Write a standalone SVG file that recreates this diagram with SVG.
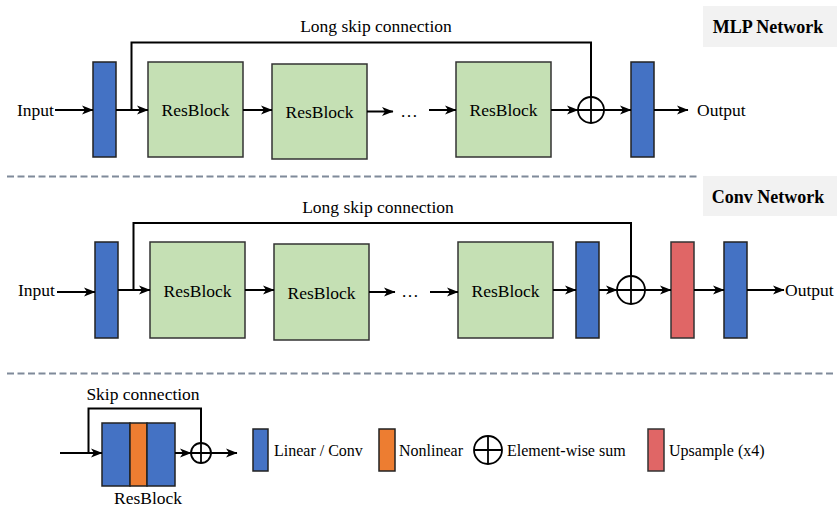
<svg xmlns="http://www.w3.org/2000/svg" width="837" height="508" viewBox="0 0 837 508">
<defs>
<marker id="ah" markerUnits="userSpaceOnUse" markerWidth="12" markerHeight="10" viewBox="0 0 12 10" refX="11" refY="5" orient="auto">
<path d="M0,0.5 L11.5,5 L0,9.5 L3,5 Z" fill="#000"/>
</marker>
<style>
.t{font-family:"Liberation Serif","Times New Roman",serif;font-size:17.5px;fill:#000}
.s{font-family:"Liberation Serif","Times New Roman",serif;font-size:16px;fill:#000}
.h{font-family:"Liberation Serif","Times New Roman",serif;font-size:18px;font-weight:bold;fill:#000}
.lin{fill:#4472c4;stroke:#222;stroke-width:1.5}
.rb{fill:#c5e0b4;stroke:#333;stroke-width:1.5}
.nl{fill:#ed7d31;stroke:#222;stroke-width:1.5}
.up{fill:#e06666;stroke:#333;stroke-width:1.5}
.sum{fill:none;stroke:#000;stroke-width:1.8}
.c{fill:none;stroke:#000;stroke-width:2}
.a{fill:none;stroke:#000;stroke-width:2;marker-end:url(#ah)}
.dash{stroke:#7f8a9a;stroke-width:2;stroke-dasharray:7,3.5}
.lbl{fill:#f2f2f2}
</style>
</defs>

<!-- section separators and titles -->
<line class="dash" x1="7" y1="176.5" x2="700" y2="176.5"/>
<line class="dash" x1="7" y1="373.5" x2="836" y2="373.5"/>
<g id="mlp-title"><rect class="lbl" x="703" y="6" width="134" height="41"/><text class="h" x="768" y="33" text-anchor="middle">MLP Network</text></g>
<g id="conv-title"><rect class="lbl" x="703" y="176" width="134" height="40"/><text class="h" x="768" y="203" text-anchor="middle">Conv Network</text></g>

<!-- MLP network nodes -->
<g id="mlp-input"><text class="t" x="17" y="116">Input</text></g>
<g id="mlp-lin1"><rect class="lin" x="93" y="62" width="23" height="95"/></g>
<g id="mlp-rb1"><rect class="rb" x="148" y="62" width="95" height="95"/><text class="t" x="195.5" y="116" text-anchor="middle">ResBlock</text></g>
<g id="mlp-rb2"><rect class="rb" x="272" y="64" width="95" height="95"/><text class="t" x="319.5" y="118" text-anchor="middle">ResBlock</text></g>
<g id="mlp-dots"><text class="t" x="409" y="117" text-anchor="middle">…</text></g>
<g id="mlp-rb3"><rect class="rb" x="456" y="62" width="95" height="95"/><text class="t" x="503.5" y="116" text-anchor="middle">ResBlock</text></g>
<g id="mlp-sum"><circle class="sum" cx="591" cy="110" r="13"/><path class="sum" d="M578,110 H604 M591,97 V123"/></g>
<g id="mlp-lin2"><rect class="lin" x="631" y="62" width="23" height="95"/></g>
<g id="mlp-output"><text class="t" x="697" y="116">Output</text></g>
<g id="mlp-skip-label"><text class="t" x="376" y="32" text-anchor="middle">Long skip connection</text></g>

<!-- Conv network nodes -->
<g id="conv-input"><text class="t" x="18" y="296">Input</text></g>
<g id="conv-lin1"><rect class="lin" x="95" y="242" width="23" height="96"/></g>
<g id="conv-rb1"><rect class="rb" x="150" y="242" width="95" height="96"/><text class="t" x="197.5" y="297" text-anchor="middle">ResBlock</text></g>
<g id="conv-rb2"><rect class="rb" x="274" y="244" width="95" height="96"/><text class="t" x="321.5" y="299" text-anchor="middle">ResBlock</text></g>
<g id="conv-dots"><text class="t" x="410" y="297" text-anchor="middle">…</text></g>
<g id="conv-rb3"><rect class="rb" x="458" y="242" width="95" height="96"/><text class="t" x="505.5" y="297" text-anchor="middle">ResBlock</text></g>
<g id="conv-lin2"><rect class="lin" x="576" y="242" width="23" height="96"/></g>
<g id="conv-sum"><circle class="sum" cx="631" cy="290" r="14"/><path class="sum" d="M617,290 H645 M631,276 V304"/></g>
<g id="conv-up"><rect class="up" x="671" y="242" width="23" height="96"/></g>
<g id="conv-lin3"><rect class="lin" x="724" y="242" width="23" height="96"/></g>
<g id="conv-output"><text class="t" x="785" y="296">Output</text></g>
<g id="conv-skip-label"><text class="t" x="378" y="213" text-anchor="middle">Long skip connection</text></g>

<!-- Legend -->
<g id="legend-skip-label"><text class="t" x="143" y="400" text-anchor="middle">Skip connection</text></g>
<g id="legend-resblock">
<rect class="lin" x="102" y="423" width="28" height="63"/>
<rect class="nl" x="130" y="423" width="17" height="63"/>
<rect class="lin" x="147" y="423" width="28" height="63"/>
<text class="t" x="148" y="503.5" text-anchor="middle">ResBlock</text>
</g>
<g id="legend-resblock-sum"><circle class="sum" cx="201" cy="453" r="10"/><path class="sum" d="M191,453 H211 M201,443 V463"/></g>
<g id="legend-linear"><rect class="lin" x="253" y="429" width="15" height="42"/><text class="s" x="274" y="456">Linear / Conv</text></g>
<g id="legend-nonlinear"><rect class="nl" x="379" y="429" width="16" height="42"/><text class="s" x="399" y="456">Nonlinear</text></g>
<g id="legend-sum"><circle class="sum" cx="488" cy="450" r="14"/><path class="sum" d="M474,450 H502 M488,436 V464"/><text class="s" x="507" y="456">Element-wise sum</text></g>
<g id="legend-upsample"><rect class="up" x="648" y="429" width="16" height="42"/><text class="s" x="669" y="456">Upsample (x4)</text></g>

<!-- connectors -->
<g id="connectors">
<line class="a" x1="55" y1="110" x2="93" y2="110"/>
<line class="a" x1="116" y1="110" x2="148" y2="110"/>
<path class="c" d="M131.5,110 V42.5 H591 V97"/>
<line class="a" x1="243" y1="110" x2="272" y2="110"/>
<line class="a" x1="367" y1="111.5" x2="393" y2="111.5"/>
<line class="a" x1="429" y1="110" x2="456" y2="110"/>
<line class="a" x1="551" y1="110" x2="578" y2="110"/>
<line class="a" x1="604" y1="110" x2="631" y2="110"/>
<line class="a" x1="654" y1="110" x2="688" y2="110"/>

<line class="a" x1="57" y1="292" x2="95" y2="292"/>
<line class="a" x1="118" y1="290" x2="150" y2="290"/>
<path class="c" d="M133.5,290 V223 H631 V276"/>
<line class="a" x1="245" y1="290" x2="274" y2="290"/>
<line class="a" x1="369" y1="292" x2="395" y2="292"/>
<line class="a" x1="430" y1="292" x2="458" y2="292"/>
<line class="a" x1="553" y1="290" x2="576" y2="290"/>
<line class="a" x1="599" y1="290" x2="617" y2="290"/>
<line class="a" x1="645" y1="290" x2="671" y2="290"/>
<line class="a" x1="694" y1="290" x2="724" y2="290"/>
<line class="a" x1="747" y1="290" x2="784" y2="290"/>

<line class="a" x1="60" y1="453" x2="102" y2="453"/>
<path class="c" d="M88.5,453 V408.5 H201 V443"/>
<line class="a" x1="175" y1="453" x2="191" y2="453"/>
<line class="a" x1="211" y1="453" x2="237" y2="453"/>
</g>
</svg>
